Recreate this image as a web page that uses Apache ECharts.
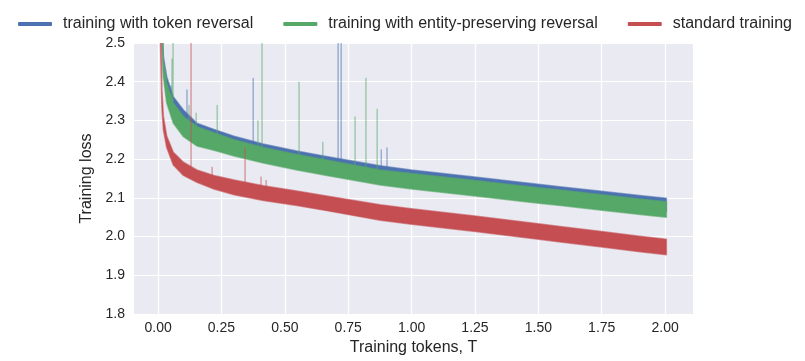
<!DOCTYPE html>
<html>
<head>
<meta charset="UTF-8">
<title>Training loss</title>
<script src="https://cdn.jsdelivr.net/npm/echarts@6/dist/echarts.min.js"></script>
<style>
	html,body{margin:0;padding:0;background:#fff;}
	#main{width:805px;height:361px;}
</style>
</head>
<body>
<div id="main"></div>
<script type="text/javascript">
	var tokens = [0.006, 0.011, 0.015, 0.021, 0.034, 0.06, 0.1, 0.153, 0.22, 0.3, 0.415, 0.547, 0.665, 0.876, 1.0, 1.25, 1.5, 1.586, 1.75, 1.9, 2.005];

	// lower / upper edge of each noisy loss band
	var tokenLo  = [2.77, 2.62, 2.54, 2.43, 2.36, 2.308, 2.273, 2.249, 2.238, 2.223, 2.205, 2.187, 2.173, 2.148, 2.138, 2.12, 2.101, 2.095, 2.083, 2.072, 2.065];
	var tokenHi  = [2.95, 2.75, 2.6, 2.465, 2.413, 2.361, 2.327, 2.293, 2.277, 2.259, 2.239, 2.221, 2.207, 2.183, 2.172, 2.154, 2.135, 2.129, 2.117, 2.106, 2.099];
	var entityLo = [2.75, 2.6, 2.52, 2.413, 2.345, 2.293, 2.258, 2.234, 2.223, 2.208, 2.19, 2.172, 2.158, 2.133, 2.123, 2.105, 2.086, 2.08, 2.068, 2.057, 2.05];
	var entityHi = [2.9, 2.7, 2.58, 2.456, 2.397, 2.345, 2.31, 2.284, 2.268, 2.25, 2.23, 2.212, 2.198, 2.172, 2.163, 2.145, 2.126, 2.12, 2.108, 2.097, 2.09];
	var stdLo    = [2.62, 2.45, 2.335, 2.275, 2.23, 2.185, 2.158, 2.14, 2.123, 2.108, 2.093, 2.08, 2.067, 2.042, 2.032, 2.013, 1.993, 1.986, 1.973, 1.961, 1.953];
	var stdHi    = [2.75, 2.55, 2.38, 2.31, 2.26, 2.218, 2.192, 2.172, 2.158, 2.146, 2.131, 2.118, 2.105, 2.082, 2.072, 2.053, 2.033, 2.026, 2.013, 2.001, 1.993];

	// loss spikes: [tokens, band value, spike top]
	var tokenSpikes = [[0.051, 2.36, 2.39], [0.114, 2.28, 2.38], [0.375, 2.22, 2.41], [0.71, 2.19, 2.5], [0.722, 2.19, 2.5], [0.903, 2.17, 2.23], [0.88, 2.17, 2.225]];
	var entitySpikes = [[0.055, 2.35, 2.46], [0.059, 2.35, 2.5], [0.122, 2.28, 2.34], [0.15, 2.27, 2.32], [0.233, 2.25, 2.34], [0.394, 2.21, 2.3], [0.41, 2.21, 2.5], [0.556, 2.19, 2.4], [0.65, 2.18, 2.245], [0.777, 2.17, 2.31], [0.82, 2.17, 2.41], [0.864, 2.16, 2.33]];
	var stdSpikes = [[0.13, 2.17, 2.5], [0.213, 2.15, 2.18], [0.343, 2.12, 2.23], [0.406, 2.11, 2.155], [0.426, 2.11, 2.146]];

	var xTicks = [0, 0.25, 0.5, 0.75, 1, 1.25, 1.5, 1.75, 2];
	var names = ['training with token reversal', 'training with entity-preserving reversal', 'standard training'];
	var colors = ['#4C72B0', '#55A868', '#C44E52'];

	var txt = '#262626';
	var font = 'Liberation Sans, Arial, sans-serif';

	// band between lo and hi, drawn as one polygon through the axes
	function band(name, color, lo, hi){
		return {
			name: name, type: 'custom', clip: true, silent: true,
			itemStyle: {color: color},
			data: tokens.map(function(x, i){ return [x, lo[i], hi[i]]; }),
			encode: {x: 0, y: [1, 2]},
			renderItem: function(params, api){
				if (params.dataIndex !== 0) return null;
				var pts = [];
				for (var i = 0; i < tokens.length; i++) pts.push(api.coord([tokens[i], hi[i]]));
				for (var j = tokens.length - 1; j >= 0; j--) pts.push(api.coord([tokens[j], lo[j]]));
				return {type: 'polygon', shape: {points: pts},
					style: {fill: color, stroke: color, lineWidth: 1.5, strokeOpacity: 0.6, lineJoin: 'round'}};
			}
		};
	}
	function spikes(name, color, data){
		return {
			name: name + ' spikes', type: 'custom', data: data, clip: true, silent: true,
			encode: {x: 0, y: [1, 2]},
			renderItem: function(params, api){
				var a = api.coord([api.value(0), api.value(1)]);
				var b = api.coord([api.value(0), api.value(2)]);
				return {type: 'line', shape: {x1: a[0], y1: a[1], x2: b[0], y2: b[1]},
					style: {stroke: color, lineWidth: 1, opacity: 0.75}};
			}
		};
	}

	var series = [
		band(names[0], colors[0], tokenLo, tokenHi), spikes(names[0], colors[0], tokenSpikes),
		band(names[1], colors[1], entityLo, entityHi), spikes(names[1], colors[1], entitySpikes),
		band(names[2], colors[2], stdLo, stdHi), spikes(names[2], colors[2], stdSpikes)
	];

	var myChart = echarts.init(document.getElementById('main'));
	myChart.setOption({
		animation: false,
		textStyle: {fontFamily: font},
		legend: {
			data: names, left: 13, top: 11, itemGap: 30, itemWidth: 34, itemHeight: 4,
			icon: 'roundRect',
			textStyle: {color: txt, fontSize: 16, fontFamily: font, padding: [0, 0, 0, 6]}
		},
		grid: {left: 134, top: 43, width: 559, height: 271, show: true,
			backgroundColor: '#EAEAF2', borderWidth: 0},
		xAxis: {
			type: 'value', min: -0.095, max: 2.11,
			name: 'Training tokens, T', nameLocation: 'middle', nameGap: 22,
			nameTextStyle: {color: txt, fontSize: 16, fontFamily: font},
			axisLine: {show: false},
			axisTick: {show: false, customValues: xTicks},
			axisLabel: {customValues: xTicks, color: txt, fontSize: 14, margin: 7,
				formatter: function(v){ return v.toFixed(2); }},
			splitLine: {show: true, lineStyle: {color: '#fff', width: 1.2}}
		},
		yAxis: {
			type: 'value', min: 1.8, max: 2.5, interval: 0.1,
			name: 'Training loss', nameLocation: 'middle', nameGap: 30,
			nameTextStyle: {color: txt, fontSize: 16, fontFamily: font},
			axisLine: {show: false}, axisTick: {show: false},
			axisLabel: {color: txt, fontSize: 14, margin: 9,
				formatter: function(v){ return v.toFixed(1); }},
			splitLine: {show: true, lineStyle: {color: '#fff', width: 1.2}}
		},
		series: series
	});
</script>
</body>
</html>
